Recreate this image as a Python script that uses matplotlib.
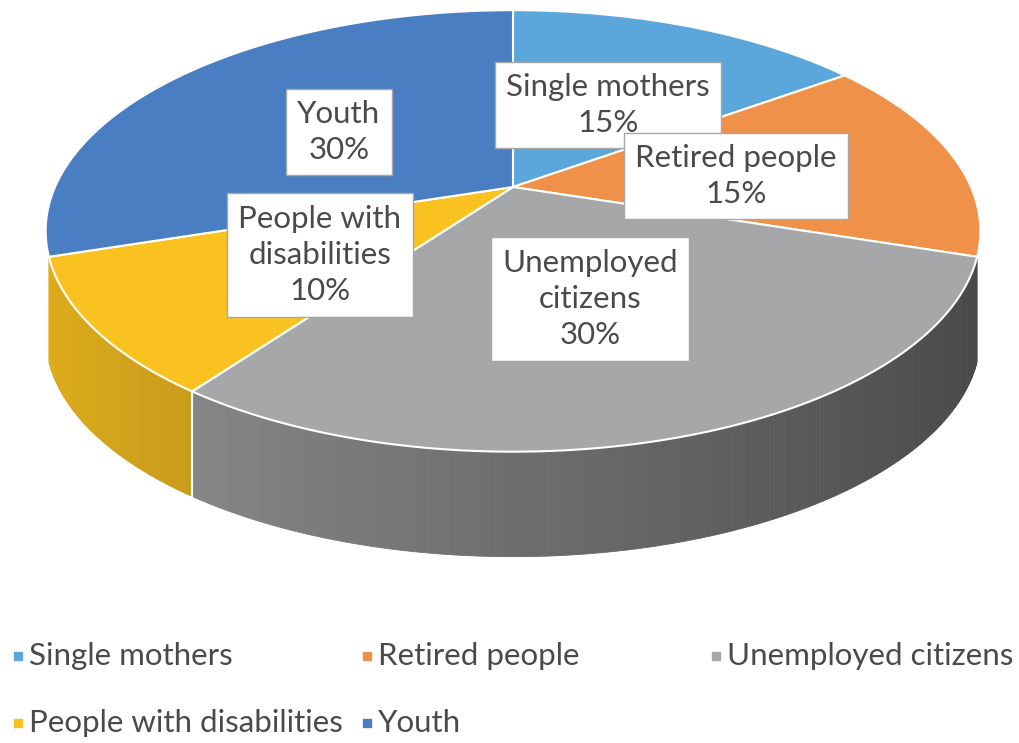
import numpy as np
import matplotlib
matplotlib.use("Agg")
import matplotlib.pyplot as plt
from matplotlib.patches import Polygon
from matplotlib.colors import to_rgb

# ---- data ----
categories = ["Single mothers", "Retired people", "Unemployed citizens",
              "People with disabilities", "Youth"]
label_text = ["Single mothers", "Retired people", "Unemployed\ncitizens",
              "People with\ndisabilities", "Youth"]
shares = [15, 15, 30, 10, 30]
colors = ["#5BA7DB", "#F0914A", "#A5A7A8", "#FAC220", "#4A7EC2"]

# ---- layout ----
W, H = 1020, 743
fig = plt.figure(figsize=(W / 100, H / 100), dpi=100)
ax = fig.add_axes([0, 0, 1, 1])
ax.set_xlim(0, W)
ax.set_ylim(H, 0)
ax.axis("off")

FONT = ["Lato", "DejaVu Sans"]
TXT = "#4A4A4A"
FS = 22.5

CX, CY = 513, 187          # projected pie centre
R, S, K = 458, 212, 0.199  # radii and perspective factor
DEPTH = 105
SIDE_RANGE = (-162, -18)   # visible part of the side wall (degrees)


def proj(theta_deg):
    t = np.radians(theta_deg)
    u, v = np.cos(t), np.sin(t)
    w = 1 + K * v
    return CX + R * u / w, CY - S * v / w


def shade(rgb, theta_deg):
    f = 0.66 - 0.24 * np.cos(np.radians(theta_deg))
    return tuple(np.clip(np.array(rgb) * f, 0, 1))


def wrap(a):
    while a > 90:
        a -= 360
    while a <= -270:
        a += 360
    return a


total = float(sum(shares))
cum = np.concatenate([[0], np.cumsum(shares)])
starts = 90 - 360 * cum[:-1] / total
ends = 90 - 360 * cum[1:] / total

# ---- side walls ----
for i in range(len(shares)):
    a0, a1 = starts[i], ends[i]
    lo, hi = max(a1, SIDE_RANGE[0]), min(a0, SIDE_RANGE[1])
    if hi - lo < 0.5:
        continue
    n = max(2, int((hi - lo) / 0.5))
    th = np.linspace(hi, lo, n + 1)
    base = to_rgb(colors[i])
    for j in range(n):
        x0, y0 = proj(th[j])
        x1, y1 = proj(th[j + 1])
        col = shade(base, 0.5 * (th[j] + th[j + 1]))
        ax.add_patch(Polygon([(x0, y0), (x1, y1), (x1, y1 + DEPTH), (x0, y0 + DEPTH)],
                             closed=True, facecolor=col, edgecolor=col,
                             linewidth=0.6, zorder=1))

# white seams between side segments
for a in list(starts) + list(ends):
    a = wrap(a)
    if SIDE_RANGE[0] + 0.5 < a < SIDE_RANGE[1] - 0.5:
        x, y = proj(a)
        ax.plot([x, x], [y, y + DEPTH], color="white", lw=1.5, zorder=2)

# ---- top face ----
for i in range(len(shares)):
    th = np.linspace(starts[i], ends[i], 200)
    pts = [(CX, CY)] + [proj(t) for t in th]
    ax.add_patch(Polygon(pts, closed=True, facecolor=colors[i],
                         edgecolor="white", linewidth=1.5, zorder=3))

# ---- data labels ----
label_pos = [(608, 105), (736, 176), (590, 299), (320, 255), (339, 132)]
for i in range(len(shares)):
    x, y = label_pos[i]
    ax.text(x, y, f"{label_text[i]}\n{shares[i]}%", ha="center", va="center",
            fontsize=FS, family=FONT, color=TXT, linespacing=1.36, zorder=5,
            bbox=dict(boxstyle="square,pad=0.36", facecolor="white",
                      edgecolor="#A6A6A6", linewidth=1.0))

# ---- legend (row-major, equal column widths) ----
col_w, row_h = 349, 67
lx0, ly0 = 18, 656
for i, name in enumerate(categories):
    r, c = divmod(i, 3)
    x = lx0 + c * col_w
    y = ly0 + r * row_h
    ax.scatter([x], [y], marker="s", s=30, color=colors[i], zorder=5)
    ax.text(x + 11, y, name, ha="left", va="center", fontsize=FS,
            family=FONT, color=TXT, zorder=5)

fig.savefig("out.png", dpi=100, facecolor="white")
